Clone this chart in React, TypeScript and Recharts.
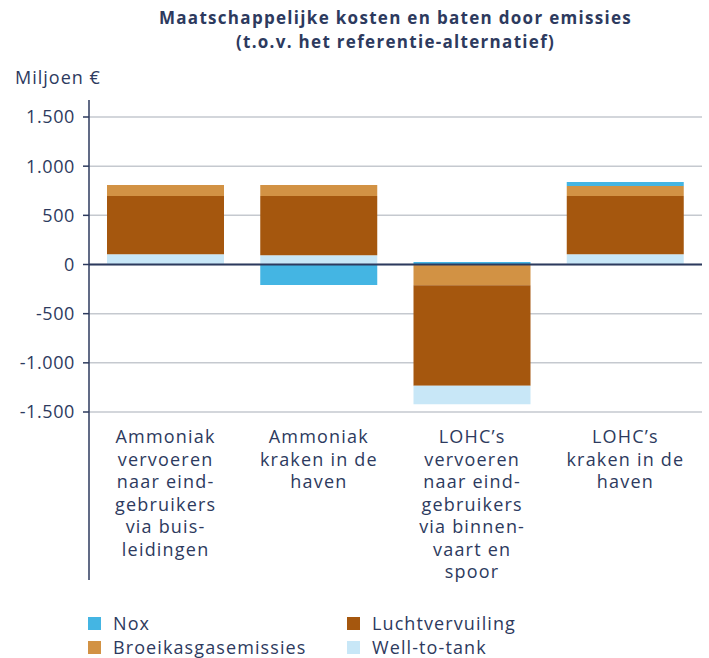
import React from "react";
import {
  BarChart,
  Bar,
  XAxis,
  YAxis,
  CartesianGrid,
  ReferenceLine,
  usePlotArea,
} from "recharts";

const categories: string[][] = [
  ["Ammoniak", "vervoeren", "naar eind-", "gebruikers", "via buis-", "leidingen"],
  ["Ammoniak", "kraken in de", "haven"],
  ["LOHC\u2019s", "vervoeren", "naar eind-", "gebruikers", "via binnen-", "vaart en", "spoor"],
  ["LOHC\u2019s", "kraken in de", "haven"],
];

const wellToTank = [105, 95, -190, 105];
const luchtvervuiling = [592, 602, -1021, 592];
const broeikasgas = [112, 112, -211, 102];
const nox = [0, -208, 25, 40];

const yTicks = [-1500, -1000, -500, 0, 500, 1000, 1500];

const NAVY = "#2d3a5e";
const FONT = "'Open Sans', 'Noto Sans', sans-serif";

const series = [
  { key: "wtt", name: "Well-to-tank", color: "#c8e7f7", values: wellToTank },
  { key: "lucht", name: "Luchtvervuiling", color: "#a5570e", values: luchtvervuiling },
  { key: "broeikas", name: "Broeikasgasemissies", color: "#d29244", values: broeikasgas },
  { key: "nox", name: "Nox", color: "#44b5e3", values: nox },
];

// negative parts stack outward in this order
const negOrder = ["broeikas", "lucht", "wtt", "nox"];

const data = categories.map((lines, i) => {
  const row: Record<string, any> = { name: lines.join(" "), lines };
  series.forEach((s) => {
    const v = s.values[i];
    row[s.key + "_pos"] = v > 0 ? v : 0;
    row[s.key + "_neg"] = v < 0 ? v : 0;
  });
  return row;
});

const fmt = (v: number) => {
  const abs = Math.abs(v);
  const s = abs >= 1000 ? `${Math.floor(abs / 1000)}.${String(abs % 1000).padStart(3, "0")}` : String(abs);
  return (v < 0 ? "-" : "") + s;
};

const XTick = (props: any) => {
  const { x, y, payload } = props;
  const lines: string[] = categories[payload.index] ?? String(payload.value).split(" ");
  return (
    <text x={x} y={y} textAnchor="middle" fill={NAVY} fontSize={18} fontFamily={FONT} style={{ letterSpacing: "1.2px" }}>
      {lines.map((l, i) => (
        <tspan key={i} x={x} dy={i === 0 ? 31 : 22.5}>
          {l}
        </tspan>
      ))}
    </text>
  );
};

const AxisLineExt = () => {
  const area = usePlotArea();
  if (!area) return null;
  return (
    <line
      x1={area.x}
      x2={area.x}
      y1={area.y - 17}
      y2={area.y + area.height + 168}
      stroke={NAVY}
      strokeWidth={1.5}
    />
  );
};

const legendItems = [series[3], series[1], series[2], series[0]];

export default function App() {
  return (
    <div style={{ position: "absolute", left: 0, top: 0, width: 709, height: 658, fontFamily: FONT, color: NAVY, background: "#fff", overflow: "hidden" }}>
      <div
        style={{
          position: "absolute",
          left: 89,
          width: 613,
          top: 6,
          textAlign: "center",
          fontWeight: 700,
          fontSize: 17,
          lineHeight: "24px",
          letterSpacing: "1.3px",
        }}
      >
        Maatschappelijke kosten en baten door emissies
        <br />
        (t.o.v. het referentie-alternatief)
      </div>
      <div style={{ position: "absolute", left: 15, top: 65, fontSize: 18, lineHeight: "24px", letterSpacing: "1px" }}>Miljoen €</div>
      <BarChart
        width={709}
        height={658}
        data={data}
        stackOffset="sign"
        margin={{ top: 117, right: 7, bottom: 76, left: 0 }}
        barSize={117}
      >
        <CartesianGrid vertical={false} stroke="#c5c9cf" strokeWidth={1.5} />
        <XAxis
          dataKey="name"
          axisLine={false}
          tickLine={false}
          tickSize={0}
          tickMargin={0}
          height={170}
          interval={0}
          tick={<XTick />}
        />
        <YAxis
          type="number"
          domain={[-1500, 1500]}
          ticks={yTicks}
          tickFormatter={fmt}
          width={89}
          axisLine={false}
          tickLine={{ stroke: NAVY, strokeWidth: 1.5 }}
          tickSize={6}
          tickMargin={8}
          tick={{ fill: NAVY, fontSize: 18, fontFamily: FONT, style: { letterSpacing: "0.6px" } }}
          interval={0}
        />
        {series.map((s) => (
          <Bar key={s.key + "_pos"} dataKey={s.key + "_pos"} stackId="a" fill={s.color} isAnimationActive={false} />
        ))}
        {negOrder.map((k) => {
          const s = series.find((x) => x.key === k)!;
          return <Bar key={k + "_neg"} dataKey={k + "_neg"} stackId="a" fill={s.color} isAnimationActive={false} />;
        })}
        <ReferenceLine y={0} stroke={NAVY} strokeWidth={2} />
        <AxisLineExt />
      </BarChart>
      {legendItems.map((s, i) => {
        const col = i % 2;
        const row = Math.floor(i / 2);
        return (
          <div
            key={s.key}
            style={{
              position: "absolute",
              left: col === 0 ? 88 : 347,
              top: 614 + row * 24,
              height: 18,
              display: "flex",
              alignItems: "center",
              fontSize: 18,
              lineHeight: "18px",
              letterSpacing: "1.1px",
            }}
          >
            <span style={{ width: 13, height: 13, background: s.color, display: "inline-block", marginRight: 12 }} />
            <span>{s.name}</span>
          </div>
        );
      })}
    </div>
  );
}
